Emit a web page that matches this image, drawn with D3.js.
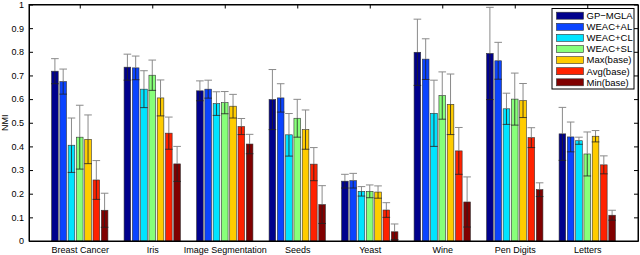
<!DOCTYPE html>
<html>
<head>
<meta charset="utf-8">
<script src="https://cdn.jsdelivr.net/npm/d3@7"></script>
<style>
  body { margin: 0; background: #fff; }
  svg { display: block; font-family: "Liberation Sans", Arial, sans-serif; }
</style>
</head>
<body>
<div id="graph"></div>
<script>
const categories = ["Breast Cancer", "Iris", "Image Segmentation", "Seeds", "Yeast", "Wine", "Pen Digits", "Letters"];
const seriesNames = ["GP\u2212MGLA", "WEAC+AL", "WEAC+CL", "WEAC+SL", "Max(base)", "Avg(base)", "Min(base)"];
const colors = ["#00008c", "#0b44ff", "#00e4ff", "#88ff7a", "#ffcc00", "#ff2200", "#800000"];

const gpMgla = [0.718, 0.735, 0.635, 0.598, 0.253, 0.798, 0.793, 0.453];
const weacAl = [0.674, 0.732, 0.642, 0.605, 0.255, 0.769, 0.762, 0.440];
const weacCl = [0.405, 0.642, 0.581, 0.449, 0.210, 0.540, 0.559, 0.424];
const weacSl = [0.439, 0.701, 0.585, 0.519, 0.210, 0.615, 0.600, 0.368];
const maxBase = [0.430, 0.605, 0.570, 0.471, 0.207, 0.578, 0.594, 0.443];
const avgBase = [0.258, 0.456, 0.484, 0.325, 0.131, 0.381, 0.437, 0.322];
const minBase = [0.130, 0.326, 0.410, 0.154, 0.039, 0.165, 0.217, 0.109];

const gpMglaErr = [0.053, 0.055, 0.042, 0.127, 0.029, 0.140, 0.195, 0.112];
const weacAlErr = [0.053, 0.050, 0.038, 0.060, 0.031, 0.086, 0.078, 0.063];
const weacClErr = [0.115, 0.078, 0.050, 0.090, 0.020, 0.140, 0.066, 0.015];
const weacSlErr = [0.135, 0.064, 0.047, 0.080, 0.027, 0.100, 0.110, 0.093];
const maxBaseErr = [0.103, 0.076, 0.050, 0.083, 0.026, 0.128, 0.072, 0.024];
const avgBaseErr = [0.082, 0.068, 0.034, 0.070, 0.031, 0.099, 0.042, 0.038];
const minBaseErr = [0.072, 0.074, 0.041, 0.080, 0.033, 0.106, 0.029, 0.021];

const yTicks = [0, 0.1, 0.2, 0.3, 0.4, 0.5, 0.6, 0.7, 0.8, 0.9, 1];

const values = [gpMgla, weacAl, weacCl, weacSl, maxBase, avgBase, minBase];
const errors = [gpMglaErr, weacAlErr, weacClErr, weacSlErr, maxBaseErr, avgBaseErr, minBaseErr];

const width = 640, height = 255;
const margin = {left: 29, right: 638, top: 4.5, bottom: 241};

const svg = d3.select("#graph").append("svg")
  .attr("width", width).attr("height", height);

const x = d3.scaleLinear().domain([0.3, categories.length + 0.7]).range([margin.left, margin.right]);
const y = d3.scaleLinear().domain([0, 1]).range([margin.bottom, margin.top]);
const groupW = (x(2) - x(1)) * 0.8;
const x1 = d3.scaleBand().domain(d3.range(seriesNames.length))
  .range([-groupW / 2, groupW / 2]).paddingInner(0.2).paddingOuter(0.1);

// bars
const data = [];
values.forEach((vals, s) => vals.forEach((v, i) => data.push({s, i, v, e: errors[s][i]})));

svg.append("g").selectAll("rect").data(data).join("rect")
  .attr("x", d => x(d.i + 1) + x1(d.s))
  .attr("y", d => y(d.v))
  .attr("width", x1.bandwidth())
  .attr("height", d => y(0) - y(d.v))
  .attr("fill", d => colors[d.s])
  .attr("stroke", "#333")
  .attr("stroke-width", 0.6);

// error bars
const eb = svg.append("g").selectAll("g").data(data).join("g")
  .attr("transform", d => `translate(${x(d.i + 1) + x1(d.s) + x1.bandwidth() / 2},0)`);
const cap = x1.bandwidth() / 2 + 0.5;
eb.append("line")
  .attr("y1", d => y(d.v + d.e)).attr("y2", d => y(d.v))
  .attr("stroke", "#8a8a8a");
eb.append("line")
  .attr("x1", -cap).attr("x2", cap)
  .attr("y1", d => y(d.v + d.e)).attr("y2", d => y(d.v + d.e))
  .attr("stroke", "#8a8a8a");
eb.append("line")
  .attr("y1", d => y(d.v)).attr("y2", d => y(d.v - d.e))
  .attr("stroke", "#222").attr("stroke-opacity", 0.8);
eb.append("line")
  .attr("x1", -cap).attr("x2", cap)
  .attr("y1", d => y(d.v - d.e)).attr("y2", d => y(d.v - d.e))
  .attr("stroke", "#222").attr("stroke-opacity", 0.8);

// axes
const yAxis = d3.axisLeft(y).tickValues(yTicks).tickSizeInner(-4).tickSizeOuter(0).tickPadding(5)
  .tickFormat(d => d === 0 || d === 1 ? d3.format("d")(d) : d3.format(".1f")(d));
svg.append("g").attr("transform", `translate(${margin.left},0)`).call(yAxis)
  .call(g => g.selectAll("text").attr("font-size", 9).attr("font-family", null).attr("fill", "#000"));

svg.append("g").attr("transform", `translate(${margin.right},0)`)
  .call(d3.axisRight(y).tickValues(yTicks).tickSizeInner(-4).tickSizeOuter(0).tickFormat(""));

const xTickVals = d3.range(1, categories.length + 1);
svg.append("g").attr("transform", `translate(0,${margin.bottom})`)
  .call(d3.axisBottom(x).tickValues(xTickVals).tickSizeInner(0).tickSizeOuter(0).tickPadding(5.5)
    .tickFormat(d => categories[d - 1]))
  .call(g => g.selectAll("text").attr("font-size", 9).attr("font-family", null).attr("fill", "#000"));

svg.append("g").attr("transform", `translate(0,${margin.top})`)
  .call(d3.axisTop(x).tickValues(xTickVals).tickSizeInner(-4).tickSizeOuter(0).tickFormat(""));

svg.selectAll(".domain, .tick line").attr("stroke", "#000").attr("stroke-width", 1);

svg.append("rect")
  .attr("x", margin.left).attr("y", margin.top)
  .attr("width", margin.right - margin.left).attr("height", margin.bottom - margin.top)
  .attr("fill", "none").attr("stroke", "#000").attr("stroke-width", 1);

svg.append("text")
  .attr("transform", `translate(8,${(margin.top + margin.bottom) / 2}) rotate(-90)`)
  .attr("text-anchor", "middle")
  .attr("font-size", 9)
  .text("NMI");

// legend
const legX = 552, legY = 8.5, legW = 82, legH = 80.5, rowH = 11.1;
const legend = svg.append("g");
legend.append("rect")
  .attr("x", legX).attr("y", legY).attr("width", legW).attr("height", legH)
  .attr("fill", "#fff").attr("stroke", "#000").attr("stroke-width", 1);
const rows = legend.selectAll("g.row").data(seriesNames).join("g")
  .attr("class", "row")
  .attr("transform", (d, i) => `translate(${legX},${legY + 7.2 + i * rowH})`);
rows.append("rect")
  .attr("x", 4.5).attr("y", -3.5).attr("width", 27).attr("height", 7)
  .attr("fill", (d, i) => colors[i]).attr("stroke", "#333").attr("stroke-width", 0.6);
rows.append("text")
  .attr("x", 34.5).attr("y", 3.3)
  .attr("font-size", 9.5)
  .text(d => d);
</script>
</body>
</html>
